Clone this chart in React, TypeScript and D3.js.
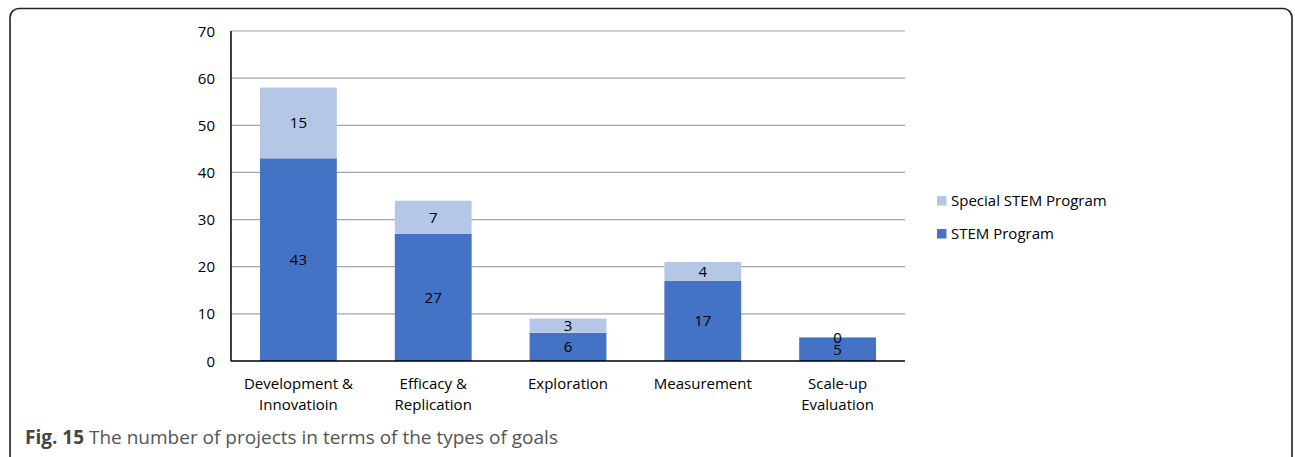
import React from "react";
import * as d3 from "d3";

const categories = [
  ["Development &", "Innovatioin"],
  ["Efficacy &", "Replication"],
  ["Exploration"],
  ["Measurement"],
  ["Scale-up", "Evaluation"],
];
const stemProgram = [43, 27, 6, 17, 5];
const specialStemProgram = [15, 7, 3, 4, 0];
const yTicks = [0, 10, 20, 30, 40, 50, 60, 70];
const seriesNames = ["Special STEM Program", "STEM Program"];

const W = 1295;
const H = 457;
const FONT = "'Open Sans', 'Noto Sans', sans-serif";
const FS = 15;
const DARK = "#4472C4";
const LIGHT = "#B4C7E7";

export default function App() {
  const plot = { left: 231, right: 905, top: 31, bottom: 361 };
  const x = d3
    .scaleBand<number>()
    .domain(d3.range(categories.length))
    .range([plot.left, plot.right])
    .paddingInner(0.43)
    .paddingOuter(0.215);
  const y = d3.scaleLinear().domain([0, 70]).range([plot.bottom, plot.top]);

  const stacked = d3
    .stack<number>()
    .keys(["stem", "special"])
    .value((i, key) => (key === "stem" ? stemProgram[i] : specialStemProgram[i]))(
    d3.range(categories.length)
  );
  const colors = [DARK, LIGHT];
  const values = [stemProgram, specialStemProgram];

  return (
    <svg
      width={W}
      height={H}
      style={{ position: "absolute", left: 0, top: 0, background: "#fff" }}
    >
      <rect
        x={10}
        y={8.5}
        width={1282}
        height={460}
        rx={9}
        fill="#fff"
        stroke="#222"
        strokeWidth={1.6}
      />
      {/* gridlines */}
      {yTicks
        .filter((t) => t > 0)
        .map((t) => (
          <line
            key={t}
            x1={plot.left}
            x2={plot.right}
            y1={y(t)}
            y2={y(t)}
            stroke="#A6A6A6"
            strokeWidth={1.2}
          />
        ))}
      {yTicks.map((t) => (
        <text
          key={"t" + t}
          x={215}
          y={y(t) + 5.5}
          textAnchor="end"
          fontFamily={FONT}
          fontSize={FS}
          fill="#000"
        >
          {t}
        </text>
      ))}
      {/* bars */}
      {stacked.map((layer, li) =>
        layer.map((seg, i) => (
          <rect
            key={li + "-" + i}
            x={x(i)}
            width={x.bandwidth()}
            y={y(seg[1])}
            height={y(seg[0]) - y(seg[1])}
            fill={colors[li]}
          />
        ))
      )}
      {/* value labels */}
      {stacked.map((layer, li) =>
        layer.map((seg, i) => (
          <text
            key={"v" + li + "-" + i}
            x={(x(i) as number) + x.bandwidth() / 2}
            y={y((seg[0] + seg[1]) / 2) + 5.5}
            textAnchor="middle"
            fontFamily={FONT}
            fontSize={FS}
            fill="#000"
          >
            {values[li][i]}
          </text>
        ))
      )}
      {/* axes */}
      <line x1={plot.left} x2={plot.left} y1={plot.top} y2={plot.bottom} stroke="#000" strokeWidth={1.5} />
      <line x1={plot.left} x2={plot.right} y1={plot.bottom} y2={plot.bottom} stroke="#000" strokeWidth={1.5} />
      {categories.map((lines, i) =>
        lines.map((ln, j) => (
          <text
            key={"c" + i + j}
            x={(x(i) as number) + x.bandwidth() / 2}
            y={388.5 + j * 21}
            textAnchor="middle"
            fontFamily={FONT}
            fontSize={FS}
            fill="#000"
          >
            {ln}
          </text>
        ))
      )}
      {/* legend */}
      {seriesNames.map((name, i) => (
        <g key={name} transform={`translate(937, ${196 + i * 33})`}>
          <rect width={9.5} height={9.5} fill={i === 0 ? LIGHT : DARK} />
          <text x={14} y={10} fontFamily={FONT} fontSize={FS} fill="#000">
            {name}
          </text>
        </g>
      ))}
      {/* caption */}
      <text x={25} y={444} fontFamily={FONT} fontSize={19} fill="#555">
        <tspan fontWeight="bold" fill="#444">Fig. 15</tspan>
        <tspan> The number of projects in terms of the types of goals</tspan>
      </text>
    </svg>
  );
}
